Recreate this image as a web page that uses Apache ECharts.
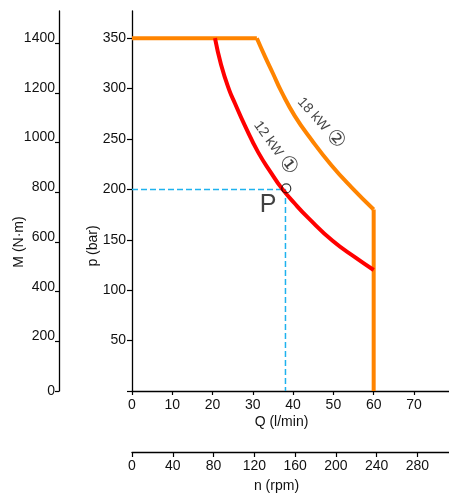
<!DOCTYPE html>
<html>
<head>
<meta charset="utf-8">
<script src="https://cdn.jsdelivr.net/npm/echarts@6/dist/echarts.min.js"></script>
<style>html,body{margin:0;padding:0;background:#fff;}#c{width:449px;height:495px;}</style>
</head>
<body>
<div id="c"></div>
<script>
// Tick labels
const qTicks = [0, 10, 20, 30, 40, 50, 60, 70];
const nTicks = [0, 40, 80, 120, 160, 200, 240, 280];
const pTicks = [0, 50, 100, 150, 200, 250, 300, 350];
const pLabels = [50, 100, 150, 200, 250, 300, 350];
const mTicks = [0, 200, 400, 600, 800, 1000, 1200, 1400];

// 12 kW curve (red): Q (l/min), p (bar)
const redQ = [20.6, 22.1, 24.1, 25.6, 28.0, 31.3, 34.7, 37.1, 40.4, 43.7, 49.8, 55.6, 60.0];
const redP = [350, 324, 299, 285, 263.5, 237, 215.5, 201.5, 186, 172, 149, 132, 120];

// 18 kW limit (orange): flat part, curve, vertical part
const orgFlatQ = [0, 31.0];
const orgFlatP = [350, 350];
const orgCurveQ = [31.0, 33.0, 35.0, 37.1, 40.4, 44.6, 49.5, 54.5, 60.0];
const orgCurveP = [350, 332, 315, 297, 273, 249, 224, 202, 180];
const orgVertQ = [60.0, 60.0];
const orgVertP = [180, 0];

// operating point P and guide lines
const guideQ = [0, 38.1, 38.1];
const guideP = [200, 200, 0];
const pointP = [38.3, 201];
const pLabelPos = [33.8, 184];
const pLabelText = 'P';

// curve annotations
const annQ = [35.5, 46.9];
const annP = [241, 266];
const annText = ['12 kW', '18 kW'];
const annNum = ['①', '②'];
const annAngle = [-54, -48];

const zip = (a, b) => a.map((v, i) => [v, b[i]]);
const FONT = 'Liberation Sans, Arial, Helvetica, sans-serif';
const TXT = '#111';

const axisLineStyle = { show: true, onZero: false, lineStyle: { color: '#000', width: 1.3 } };

const chart = echarts.init(document.getElementById('c'), null, { renderer: 'canvas' });
chart.setOption({
  animation: false,
  backgroundColor: '#fff',
  textStyle: { fontFamily: FONT },
  grid: { left: 132, top: 11, width: 317, height: 380, containLabel: false, outerBoundsMode: 'none' },
  xAxis: [
    {
      type: 'value', min: 0, max: 78.7, position: 'bottom',
      axisLine: axisLineStyle,
      axisTick: { show: true, inside: false, length: 4, customValues: qTicks, lineStyle: { color: '#000', width: 1.2 } },
      axisLabel: { customValues: qTicks, fontSize: 14, color: TXT, margin: 7, fontFamily: FONT },
      splitLine: { show: false },
      name: 'Q (l/min)', nameLocation: 'middle', nameGap: 24, nameMoveOverlap: false,
      nameTextStyle: { fontSize: 14, color: TXT, fontFamily: FONT, padding: [0, 18, 0, 0] }
    },
    {
      type: 'value', min: 0, max: 311, position: 'bottom', offset: 61,
      axisLine: axisLineStyle,
      axisTick: { show: true, inside: false, length: 5, customValues: nTicks, lineStyle: { color: '#000', width: 1.2 } },
      axisLabel: { customValues: nTicks, fontSize: 14, color: TXT, margin: 7, fontFamily: FONT },
      splitLine: { show: false },
      name: 'n (rpm)', nameLocation: 'middle', nameGap: 27, nameMoveOverlap: false,
      nameTextStyle: { fontSize: 14, color: TXT, fontFamily: FONT, padding: [0, 28, 0, 0] }
    }
  ],
  yAxis: [
    {
      type: 'value', min: 0, max: 377, position: 'left',
      axisLine: axisLineStyle,
      axisTick: { show: true, inside: false, length: 5, customValues: pTicks, lineStyle: { color: '#000', width: 1.2 } },
      axisLabel: { customValues: pLabels, fontSize: 14, color: TXT, margin: 6, fontFamily: FONT },
      splitLine: { show: false },
      name: 'p (bar)', nameLocation: 'middle', nameGap: 32, nameRotate: 90, nameMoveOverlap: false,
      nameTextStyle: { fontSize: 14, color: TXT, fontFamily: FONT, padding: [0, 90, 0, 0] }
    },
    {
      type: 'value', min: 0, max: 1530, position: 'left', offset: 73,
      axisLine: axisLineStyle,
      axisTick: { show: true, inside: false, length: 4, customValues: mTicks, lineStyle: { color: '#000', width: 1.2 } },
      axisLabel: {
        customValues: mTicks, fontSize: 14, color: TXT, margin: 4, verticalAlign: 'middle', lineHeight: 14, fontFamily: FONT,
        formatter: (v) => (v === 0 ? String(v) : '{u|' + String(v) + '}'),
        rich: { u: { fontSize: 14, color: TXT, lineHeight: 14, padding: [0, 0, 10, 0], fontFamily: FONT } }
      },
      splitLine: { show: false },
      name: 'M (N·m)', nameLocation: 'middle', nameGap: 33, nameRotate: 90, nameMoveOverlap: false,
      nameTextStyle: { fontSize: 14, color: TXT, fontFamily: FONT, padding: [0, 82, 0, 0] }
    }
  ],
  series: [
    {
      type: 'line', name: 'guide', data: zip(guideQ, guideP), symbol: 'none', z: 2,
      lineStyle: { color: '#1FB2EE', width: 1.5, type: [6, 3] }
    },
    {
      type: 'line', name: '18kW flat', data: zip(orgFlatQ, orgFlatP), symbol: 'none', z: 3,
      lineStyle: { color: '#FF8400', width: 4 }
    },
    {
      type: 'line', name: '18kW', data: zip(orgCurveQ, orgCurveP), symbol: 'none', smooth: 0.5, z: 3,
      lineStyle: { color: '#FF8400', width: 4 }
    },
    {
      type: 'line', name: '18kW max', data: zip(orgVertQ, orgVertP), symbol: 'none', z: 3,
      lineStyle: { color: '#FF8400', width: 4 }
    },
    {
      type: 'line', name: '12kW', data: zip(redQ, redP), symbol: 'none', smooth: 0.5, z: 4,
      lineStyle: { color: '#FF0000', width: 4 }
    },
    {
      type: 'scatter', name: 'P', data: [pointP], symbol: 'circle', symbolSize: 9, z: 6,
      itemStyle: { color: 'rgba(255,255,255,0)', borderColor: '#000', borderWidth: 1.2 }
    },
    {
      type: 'scatter', name: 'Plabel', data: [pLabelPos], symbolSize: 0, z: 6,
      label: { show: true, position: 'inside', formatter: pLabelText, fontSize: 25, color: '#111', fontFamily: FONT }
    },
    {
      type: 'scatter', name: 'ann', symbolSize: 0, z: 6,
      data: annQ.map((q, i) => ({
        value: [q, annP[i]],
        label: {
          show: true, position: 'inside', rotate: annAngle[i],
          formatter: annText[i] + ' {c|' + annNum[i] + '}',
          fontSize: 14, color: '#111', fontFamily: FONT,
          rich: { c: { fontSize: 21, color: '#111' } }
        }
      }))
    }
  ]
});
</script>
</body>
</html>
